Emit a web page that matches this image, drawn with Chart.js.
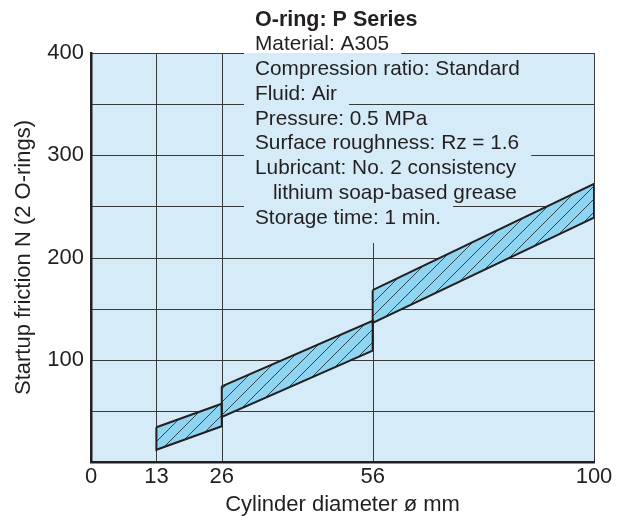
<!DOCTYPE html>
<html>
<head>
<meta charset="utf-8">
<title>Startup friction - O-ring P Series</title>
<script src="https://cdn.jsdelivr.net/npm/chart.js@4/dist/chart.umd.min.js"></script>
<style>
  body { margin: 0; background: #fff; }
  canvas { display: block; }
</style>
</head>
<body>
<canvas id="friction-chart" width="626" height="521"></canvas>
<script>
// Startup friction of P-series O-rings against cylinder bore

// Axis ticks and grid
const xTickValues = [0, 13, 26, 56, 100];
const yTickValues = [100, 200, 300, 400];
const xGridValues = [13, 26, 56, 100];
const yGridValues = [50, 100, 150, 200, 250, 300, 350, 400];

// One band per O-ring size range (bore in mm, friction in N)
const bandStart = [13, 26, 56];
const bandEnd = [26, 56, 100];
const upperStart = [34, 74, 168];
const upperEnd = [57, 138, 272];
const lowerStart = [12, 44, 136];
const lowerEnd = [35, 109, 239];

// Test conditions
const noteTitle = 'O-ring: P Series';
const noteLines = [
    'Material: A305',
    'Compression ratio: Standard',
    'Fluid: Air',
    'Pressure: 0.5 MPa',
    'Surface roughness: Rz = 1.6',
    'Lubricant: No. 2 consistency',
    'lithium soap-based grease',
    'Storage time: 1 min.'
];

// Styles
const fontFamily = "'Liberation Sans', Arial, Helvetica, sans-serif";
const ink = '#231f20';
const gridColor = '#3a3a3a';
const plotBg = '#d5ebf8';
const bandFill = '#8fd5f2';

// Note block layout
const noteX = 255;
const noteFont = 20.8;
const noteIndent = [0, 0, 0, 0, 0, 0, 18, 0];
const titleCenterY = 20;
const lineStep = 24.75;
const blockLeft = 244;
const gapAfterText = 12;

const canvas = document.getElementById('friction-chart');
const ctx = canvas.getContext('2d');

// Hatched fill for the friction bands
function makeHatch() {
    const size = 13;
    const tile = document.createElement('canvas');
    tile.width = size;
    tile.height = size;
    const g = tile.getContext('2d');
    g.fillStyle = bandFill;
    g.fillRect(0, 0, size, size);
    g.strokeStyle = '#24343a';
    g.lineWidth = 0.9;
    g.beginPath();
    g.moveTo(-1, size + 1);
    g.lineTo(size + 1, -1);
    g.moveTo(-1, 1);
    g.lineTo(1, -1);
    g.moveTo(size - 1, size + 1);
    g.lineTo(size + 1, size - 1);
    g.stroke();
    return ctx.createPattern(tile, 'repeat');
}
const hatch = makeHatch();

// Rows of the note block, used to break the grid behind the text
function noteRows(c) {
    c.save();
    c.font = `${noteFont}px ${fontFamily}`;
    const rows = noteLines.map((text, i) => {
        const center = titleCenterY + (i + 1) * lineStep;
        const last = i === noteLines.length - 1;
        return {
            top: center - lineStep / 2,
            bottom: last ? center + 25 : center + lineStep / 2,
            end: noteX + noteIndent[i] + c.measureText(text).width + gapAfterText
        };
    });
    c.restore();
    return rows;
}

const datasets = [];
bandStart.forEach((x0, i) => {
    const x1 = bandEnd[i];
    const u0 = { x: x0, y: upperStart[i] };
    const u1 = { x: x1, y: upperEnd[i] };
    const l0 = { x: x0, y: lowerStart[i] };
    const l1 = { x: x1, y: lowerEnd[i] };
    datasets.push({ data: [u0, u1], borderWidth: 0, pointRadius: 0, fill: '+1', backgroundColor: hatch });
    datasets.push({ data: [l0, l1], borderWidth: 0, pointRadius: 0, fill: false });
    datasets.push({ data: [u0, u1, l1, l0, u0], borderColor: ink, borderWidth: 2, pointRadius: 0, fill: false, tension: 0 });
});

// Plot background plus grid lines that stop at the note block
const gridPlugin = {
    id: 'frictionGrid',
    beforeDraw(chart) {
        const { ctx: c, chartArea: a, scales: { x, y } } = chart;
        const rows = noteRows(c);
        const blockBottom = rows[rows.length - 1].bottom;
        const maxEnd = Math.max(...rows.map(r => r.end));
        c.save();
        c.fillStyle = plotBg;
        c.fillRect(a.left, a.top, a.right - a.left, a.bottom - a.top);
        c.strokeStyle = gridColor;
        c.lineWidth = 1;
        c.beginPath();
        yGridValues.forEach(v => {
            const py = Math.round(y.getPixelForValue(v)) + 0.5;
            const row = rows.find(r => py >= r.top && py < r.bottom);
            c.moveTo(a.left, py);
            if (row) {
                c.lineTo(blockLeft, py);
                c.moveTo(row.end, py);
            }
            c.lineTo(a.right, py);
        });
        xGridValues.forEach(v => {
            const px = Math.round(x.getPixelForValue(v)) + 0.5;
            const covered = px > blockLeft && px < maxEnd;
            c.moveTo(px, covered ? blockBottom : a.top);
            c.lineTo(px, a.bottom);
        });
        c.stroke();
        c.restore();
    }
};

// Test condition notes
const notesPlugin = {
    id: 'frictionNotes',
    afterDraw(chart) {
        const c = chart.ctx;
        c.save();
        c.fillStyle = ink;
        c.textAlign = 'left';
        c.textBaseline = 'middle';
        c.font = `bold 21.5px ${fontFamily}`;
        c.fillText(noteTitle, noteX, titleCenterY);
        c.font = `${noteFont}px ${fontFamily}`;
        noteLines.forEach((text, i) => {
            c.fillText(text, noteX + noteIndent[i], titleCenterY + (i + 1) * lineStep);
        });
        c.restore();
    }
};

Chart.defaults.font.family = fontFamily;
Chart.defaults.color = ink;

new Chart(ctx, {
    type: 'line',
    data: { datasets },
    options: {
        responsive: false,
        animation: false,
        layout: { padding: { top: 53, right: 32, left: 0, bottom: 0 } },
        plugins: {
            legend: { display: false },
            tooltip: { enabled: false },
            filler: { drawTime: 'beforeDatasetsDraw' }
        },
        scales: {
            x: {
                type: 'linear',
                min: 0,
                max: 100,
                afterBuildTicks: s => { s.ticks = xTickValues.map(v => ({ value: v })); },
                afterFit: s => { s.height = 59; },
                grid: { display: false, drawTicks: false },
                border: { display: true, color: ink, width: 2.5 },
                ticks: { color: ink, font: { size: 22 }, padding: 2, maxRotation: 0, autoSkip: false },
                title: {
                    display: true,
                    text: 'Cylinder diameter ø mm',
                    color: ink,
                    font: { size: 22 },
                    padding: { top: 0, bottom: 3 }
                }
            },
            y: {
                type: 'linear',
                min: 0,
                max: 400,
                afterBuildTicks: s => { s.ticks = yTickValues.map(v => ({ value: v })); },
                afterFit: s => { s.width = 91; },
                grid: { display: false, drawTicks: false },
                border: { display: true, color: ink, width: 2.5 },
                ticks: { color: ink, font: { size: 22 }, padding: 7 },
                title: {
                    display: true,
                    text: 'Startup friction N (2 O-rings)',
                    color: ink,
                    font: { size: 22 },
                    padding: { top: 11, bottom: 0 }
                }
            }
        }
    },
    plugins: [gridPlugin, notesPlugin]
});
</script>
</body>
</html>
